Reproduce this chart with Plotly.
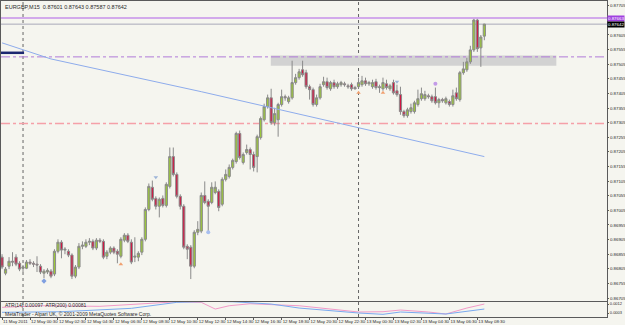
import pandas as pd
import plotly.graph_objects as go
from plotly.subplots import make_subplots

# ---------------- data ----------------
header_text = "EURGBP,M15  0.87601 0.87643 0.87587 0.87642"
indicator_text = "ATR(14) 0.00097  ATR(200) 0.00081"
copyright_text = "MetaTrader - Alpari UK, \u00a9 2001-2009 MetaQuotes Software Corp."
start_time = "2011-05-11 22:30"

opens = [0.86845, 0.86790, 0.86814, 0.86831, 0.86845, 0.86824, 0.86807, 0.86807, 0.86828, 0.86824,
         0.86821, 0.86814, 0.86790, 0.86794, 0.86797, 0.86787, 0.86865, 0.86896, 0.86869, 0.86865,
         0.86852, 0.86780, 0.86811, 0.86882, 0.86882, 0.86896, 0.86899, 0.86876, 0.86903, 0.86899,
         0.86848, 0.86862, 0.86876, 0.86865, 0.86848, 0.86903, 0.86920, 0.86896, 0.86845, 0.86845,
         0.86862, 0.86906, 0.87008, 0.87084, 0.87046, 0.87019, 0.87046, 0.87022, 0.87087, 0.87189,
         0.87128, 0.87053, 0.87019, 0.86882, 0.86879, 0.86814, 0.86930, 0.86934, 0.87056, 0.87036,
         0.87032, 0.87066, 0.87070, 0.87026, 0.87111, 0.87121, 0.87152, 0.87172, 0.87268, 0.87169,
         0.87203, 0.87213, 0.87196, 0.87189, 0.87254, 0.87315, 0.87360, 0.87390, 0.87305, 0.87315,
         0.87367, 0.87394, 0.87377, 0.87390, 0.87442, 0.87459, 0.87486, 0.87476, 0.87428, 0.87418,
         0.87367, 0.87390, 0.87435, 0.87445, 0.87421, 0.87442, 0.87428, 0.87435, 0.87438, 0.87431,
         0.87435, 0.87425, 0.87428, 0.87435, 0.87448, 0.87438, 0.87428, 0.87445, 0.87428, 0.87421,
         0.87438, 0.87421, 0.87442, 0.87414, 0.87401, 0.87343, 0.87329, 0.87343, 0.87343, 0.87367,
         0.87387, 0.87387, 0.87397, 0.87394, 0.87394, 0.87373, 0.87384, 0.87373, 0.87377, 0.87367,
         0.87407, 0.87384, 0.87476, 0.87486, 0.87513, 0.87554, 0.87656, 0.87561, 0.87601]

highs = [0.86855, 0.86811, 0.86845, 0.86862, 0.86855, 0.86831, 0.86818, 0.86835, 0.86838, 0.86831,
         0.86848, 0.86821, 0.86804, 0.86807, 0.86804, 0.86872, 0.86906, 0.86903, 0.86879, 0.86872,
         0.86858, 0.86818, 0.86893, 0.86899, 0.86906, 0.86910, 0.86906, 0.86910, 0.86910, 0.86906,
         0.86869, 0.86882, 0.86882, 0.86872, 0.86913, 0.86927, 0.86927, 0.86906, 0.86913, 0.86865,
         0.86913, 0.87015, 0.87097, 0.87107, 0.87053, 0.87049, 0.87056, 0.87101, 0.87220, 0.87220,
         0.87135, 0.87060, 0.87026, 0.86889, 0.86886, 0.86937, 0.86968, 0.87066, 0.87104, 0.87043,
         0.87101, 0.87104, 0.87077, 0.87118, 0.87145, 0.87162, 0.87182, 0.87274, 0.87278, 0.87203,
         0.87230, 0.87220, 0.87206, 0.87264, 0.87326, 0.87370, 0.87401, 0.87421, 0.87356, 0.87373,
         0.87418, 0.87401, 0.87397, 0.87517, 0.87472, 0.87489, 0.87517, 0.87486, 0.87435, 0.87425,
         0.87401, 0.87438, 0.87462, 0.87459, 0.87448, 0.87452, 0.87445, 0.87448, 0.87445, 0.87438,
         0.87442, 0.87431, 0.87459, 0.87465, 0.87459, 0.87448, 0.87452, 0.87455, 0.87435, 0.87459,
         0.87452, 0.87438, 0.87452, 0.87435, 0.87428, 0.87349, 0.87356, 0.87370, 0.87380, 0.87418,
         0.87425, 0.87414, 0.87404, 0.87401, 0.87425, 0.87390, 0.87390, 0.87394, 0.87384, 0.87418,
         0.87425, 0.87482, 0.87513, 0.87527, 0.87568, 0.87660, 0.87660, 0.87605, 0.87643]

lows = [0.86804, 0.86783, 0.86804, 0.86814, 0.86814, 0.86797, 0.86794, 0.86804, 0.86818, 0.86811,
        0.86794, 0.86787, 0.86773, 0.86787, 0.86773, 0.86780, 0.86858, 0.86841, 0.86855, 0.86845,
        0.86770, 0.86773, 0.86804, 0.86872, 0.86876, 0.86886, 0.86869, 0.86869, 0.86893, 0.86838,
        0.86838, 0.86855, 0.86855, 0.86824, 0.86841, 0.86896, 0.86893, 0.86821, 0.86828, 0.86831,
        0.86852, 0.86899, 0.87002, 0.87036, 0.87008, 0.86981, 0.87015, 0.87015, 0.87080, 0.87121,
        0.87046, 0.87008, 0.86872, 0.86838, 0.86770, 0.86807, 0.86920, 0.86927, 0.87026, 0.86930,
        0.87026, 0.87060, 0.87002, 0.87019, 0.87104, 0.87114, 0.87145, 0.87165, 0.87179, 0.87162,
        0.87196, 0.87145, 0.87138, 0.87135, 0.87247, 0.87309, 0.87353, 0.87298, 0.87295, 0.87257,
        0.87360, 0.87380, 0.87370, 0.87384, 0.87435, 0.87452, 0.87462, 0.87421, 0.87384, 0.87360,
        0.87360, 0.87384, 0.87428, 0.87418, 0.87414, 0.87421, 0.87421, 0.87428, 0.87428, 0.87421,
        0.87414, 0.87418, 0.87421, 0.87428, 0.87431, 0.87431, 0.87421, 0.87418, 0.87407, 0.87414,
        0.87418, 0.87414, 0.87401, 0.87394, 0.87332, 0.87322, 0.87322, 0.87336, 0.87336, 0.87360,
        0.87380, 0.87380, 0.87387, 0.87373, 0.87367, 0.87356, 0.87373, 0.87367, 0.87360, 0.87360,
        0.87380, 0.87377, 0.87469, 0.87479, 0.87506, 0.87547, 0.87547, 0.87496, 0.87587]

closes = [0.86811, 0.86804, 0.86831, 0.86828, 0.86821, 0.86804, 0.86811, 0.86828, 0.86824, 0.86821,
          0.86818, 0.86794, 0.86797, 0.86800, 0.86780, 0.86865, 0.86896, 0.86869, 0.86872, 0.86852,
          0.86780, 0.86811, 0.86882, 0.86886, 0.86896, 0.86899, 0.86876, 0.86903, 0.86899, 0.86845,
          0.86862, 0.86876, 0.86862, 0.86855, 0.86906, 0.86920, 0.86899, 0.86828, 0.86848, 0.86858,
          0.86906, 0.87008, 0.87087, 0.87043, 0.87019, 0.87043, 0.87022, 0.87094, 0.87189, 0.87128,
          0.87053, 0.87019, 0.86879, 0.86872, 0.86814, 0.86930, 0.86940, 0.87056, 0.87032, 0.87019,
          0.87084, 0.87084, 0.87015, 0.87111, 0.87128, 0.87152, 0.87176, 0.87268, 0.87186, 0.87196,
          0.87213, 0.87196, 0.87152, 0.87257, 0.87319, 0.87360, 0.87390, 0.87305, 0.87336, 0.87367,
          0.87394, 0.87390, 0.87390, 0.87442, 0.87459, 0.87479, 0.87469, 0.87428, 0.87418, 0.87367,
          0.87390, 0.87428, 0.87445, 0.87425, 0.87442, 0.87428, 0.87438, 0.87442, 0.87435, 0.87428,
          0.87421, 0.87421, 0.87442, 0.87448, 0.87438, 0.87442, 0.87442, 0.87425, 0.87425, 0.87442,
          0.87425, 0.87431, 0.87407, 0.87401, 0.87343, 0.87329, 0.87349, 0.87356, 0.87373, 0.87387,
          0.87404, 0.87401, 0.87394, 0.87380, 0.87373, 0.87384, 0.87380, 0.87387, 0.87367, 0.87397,
          0.87387, 0.87476, 0.87489, 0.87513, 0.87554, 0.87656, 0.87558, 0.87598, 0.87642]

assert len(opens) == len(highs) == len(lows) == len(closes), (len(opens), len(highs), len(lows), len(closes))

# moving average (read at a few bars)
ma_bars = [0, 14, 57, 114, 138]
ma_values = [0.87578, 0.87523, 0.87411, 0.87254, 0.87189]

# ATR indicator lines (read at a few bars)
atr14_bars = [0, 11, 28, 40, 50, 57, 61, 65, 71, 80, 85, 102, 109, 114, 122, 127, 133, 138]
atr14_values = [0.00087, 0.00103, 0.00097, 0.0012, 0.00143, 0.00137, 0.0007, 0.00103, 0.00123,
                0.0011, 0.00103, 0.0004, 0.00043, 0.0006, 0.0004, 0.0002, 0.0008, 0.0012]
atr200_bars = [0, 17, 37, 50, 60, 66, 77, 85, 102, 109, 114, 127, 138]
atr200_values = [0.00037, 0.00043, 0.00077, 0.00137, 0.00147, 0.00143, 0.0012, 0.0008,
                 0.0003, 0.00017, 0.0004, 0.0002, 0.0007]

# signal arrows
signal_bars = [12, 34, 44, 59, 102, 109, 113, 124]
signal_prices = [0.86763, 0.86821, 0.87118, 0.86930, 0.87407, 0.87407, 0.87445, 0.87438]

# horizontal levels and zone
level_high = 0.87663
level_bid = 0.87642
level_resist = 0.87530
level_support = 0.87302
level_trade = 0.87544
zone_top, zone_bottom = 0.87535, 0.87500

# (0.87655 is hidden behind the price boxes in the original)
price_tick_labels = ["0.86705", "0.86755", "0.86805", "0.86855", "0.86905", "0.86955", "0.87005",
                     "0.87055", "0.87105", "0.87155", "0.87205", "0.87255", "0.87305", "0.87355",
                     "0.87405", "0.87455", "0.87505", "0.87555", "0.87605", "0.87705"]
atr_tick_labels = ["0.0012", "0.0003"]

time_tick_times = ["2011-05-11 22:30", "2011-05-12 00:30", "2011-05-12 02:30", "2011-05-12 04:30",
                   "2011-05-12 06:30", "2011-05-12 08:30", "2011-05-12 10:30", "2011-05-12 12:30",
                   "2011-05-12 14:30", "2011-05-12 16:30", "2011-05-12 18:30", "2011-05-12 20:30",
                   "2011-05-12 22:30", "2011-05-13 00:30", "2011-05-13 02:30", "2011-05-13 04:30",
                   "2011-05-13 06:30", "2011-05-13 08:30"]
time_tick_labels = ["11 May 2011", "12 May 00:30", "12 May 02:30", "12 May 04:30", "12 May 06:30",
                    "12 May 08:30", "12 May 10:30", "12 May 12:30", "12 May 14:30", "12 May 16:30",
                    "12 May 18:30", "12 May 20:30", "12 May 22:30", "13 May 00:30", "13 May 02:30",
                    "13 May 04:30", "13 May 06:30", "13 May 08:30"]
day_separators = ["2011-05-12 00:00", "2011-05-13 00:00"]

# ---------------- build ----------------
t0 = pd.Timestamp(start_time)
step = pd.Timedelta(minutes=15)
times = pd.date_range(t0, periods=len(opens), freq="15min")


def bar_time(i):
    return t0 + step * i


BG = "#f5f5ef"
FONT = "Liberation Sans"
TXT = "#2a2a2a"
SMALL = 4.4

fig = make_subplots(rows=2, cols=1, shared_xaxes=True, vertical_spacing=0.01)

fig.add_trace(go.Candlestick(
    x=times, open=opens, high=highs, low=lows, close=closes,
    increasing=dict(line=dict(color="#8a8a8a", width=1), fillcolor="#9cc83a"),
    decreasing=dict(line=dict(color="#8a8a8a", width=1), fillcolor="#cf1843"),
    whiskerwidth=0, showlegend=False, hoverinfo="skip"), row=1, col=1)

fig.add_trace(go.Scatter(
    x=[times[i] for i in ma_bars], y=ma_values, mode="lines",
    line=dict(color="#8eacec", width=1), showlegend=False, hoverinfo="skip"), row=1, col=1)

sig_symbols = ["diamond", "triangle-up", "triangle-down", "circle", "triangle-up", "triangle-up",
               "triangle-down", "circle"]
sig_colors = ["#7f9fe0", "#f0a070", "#9db4d8", "#a8bff0", "#f0a070", "#f0a070", "#9db4d8", "#c39be8"]
fig.add_trace(go.Scatter(
    x=[times[i] for i in signal_bars], y=signal_prices, mode="markers",
    marker=dict(symbol=sig_symbols, color=sig_colors, size=4, line=dict(width=0)),
    showlegend=False, hoverinfo="skip"), row=1, col=1)

fig.add_trace(go.Scatter(
    x=[times[i] for i in atr14_bars], y=atr14_values, mode="lines",
    line=dict(color="#f29ac8", width=1), showlegend=False, hoverinfo="skip"), row=2, col=1)
fig.add_trace(go.Scatter(
    x=[times[i] for i in atr200_bars], y=atr200_values, mode="lines",
    line=dict(color="#7aaaf0", width=1), showlegend=False, hoverinfo="skip"), row=2, col=1)

x_start = bar_time(-0.3)
x_end = bar_time(173.1)

shapes = []
shapes.append(dict(type="rect", xref="x", yref="y", x0=bar_time(76.9), x1=bar_time(158.6),
                   y0=zone_bottom, y1=zone_top, fillcolor="#d2d2d2", line=dict(width=0), layer="below"))
for lvl, col, dash, w in [(level_high, "#c690ea", "solid", 1.5), (level_bid, "#a9a9b9", "solid", 1),
                          (level_resist, "#b07ad8", "dashdot", 1), (level_support, "#f5a0a8", "dashdot", 1.5)]:
    shapes.append(dict(type="line", xref="x", yref="y", x0=x_start, x1=x_end, y0=lvl, y1=lvl,
                       line=dict(color=col, width=w, dash=dash), layer="below"))
shapes.append(dict(type="line", xref="x", yref="y", x0=x_start, x1=bar_time(6.3), y0=level_trade, y1=level_trade,
                   line=dict(color="#1c2870", width=2.5)))
for d in day_separators:
    shapes.append(dict(type="line", xref="x", yref="paper", x0=pd.Timestamp(d), x1=pd.Timestamp(d),
                       y0=0, y1=1, line=dict(color="#666666", width=1, dash="dot"), layer="below"))

annotations = [
    dict(text=header_text, xref="paper", yref="paper", x=0.004, y=0.997, xanchor="left", yanchor="top",
         showarrow=False, font=dict(size=5.5, color=TXT, family=FONT)),
    dict(text=indicator_text, xref="paper", yref="y2 domain", x=0.004, y=0.80, xanchor="left", yanchor="middle",
         showarrow=False, font=dict(size=5, color=TXT, family=FONT)),
    dict(text=copyright_text, xref="paper", yref="y2 domain", x=0.004, y=0.22, xanchor="left", yanchor="middle",
         showarrow=False, font=dict(size=5, color=TXT, family=FONT)),
    dict(text=f"{level_high:.5f}", xref="paper", yref="y", x=1.0, y=level_high, xanchor="left", yanchor="middle",
         showarrow=False, bgcolor="#a040e0", borderpad=0, font=dict(size=SMALL, color="white", family=FONT)),
    dict(text=f"{level_bid:.5f}", xref="paper", yref="y", x=1.0, y=level_bid, xanchor="left", yanchor="middle",
         showarrow=False, bgcolor="#000000", borderpad=0, font=dict(size=SMALL, color="white", family=FONT)),
]

axis_line = "#5a5a5a"
fig.update_layout(
    width=625, height=325,
    margin=dict(l=1, r=18, t=1, b=8, autoexpand=False),
    paper_bgcolor=BG, plot_bgcolor=BG,
    boxgap=0.1,
    shapes=shapes, annotations=annotations,
    font=dict(family=FONT, size=6, color=TXT),
    showlegend=False,
)

fig.update_xaxes(range=[x_start, x_end], showgrid=False, zeroline=False, rangeslider_visible=False,
                 showline=True, linecolor=axis_line, linewidth=1, mirror=True, automargin=False)
fig.update_xaxes(showticklabels=False, ticks="", row=1, col=1)
fig.update_xaxes(tickvals=[pd.Timestamp(t) for t in time_tick_times], ticktext=time_tick_labels,
                 ticks="outside", ticklen=2, tickcolor=axis_line, ticklabelposition="outside right",
                 tickangle=0, tickfont=dict(size=SMALL, color=TXT, family=FONT), row=2, col=1)

price_vals = [float(t) for t in price_tick_labels]
fig.update_yaxes(side="right", range=[0.866948, 0.877212], domain=[0.0505, 1.0],
                 tickvals=price_vals, ticktext=price_tick_labels, ticks="outside", ticklen=1,
                 tickcolor=axis_line, tickfont=dict(size=SMALL, color=TXT, family=FONT), automargin=False,
                 showgrid=False, zeroline=False, showline=True, linecolor=axis_line, linewidth=1,
                 mirror=True, row=1, col=1)
fig.update_yaxes(side="right", range=[-0.0001, 0.0014], domain=[0.0, 0.0473],
                 tickvals=[float(t) for t in atr_tick_labels], ticktext=atr_tick_labels,
                 ticks="outside", ticklen=1, tickcolor=axis_line, automargin=False,
                 tickfont=dict(size=4, color=TXT, family=FONT),
                 showgrid=False, zeroline=False, showline=True, linecolor=axis_line, linewidth=1,
                 mirror=True, row=2, col=1)

fig.write_html("out.html")
